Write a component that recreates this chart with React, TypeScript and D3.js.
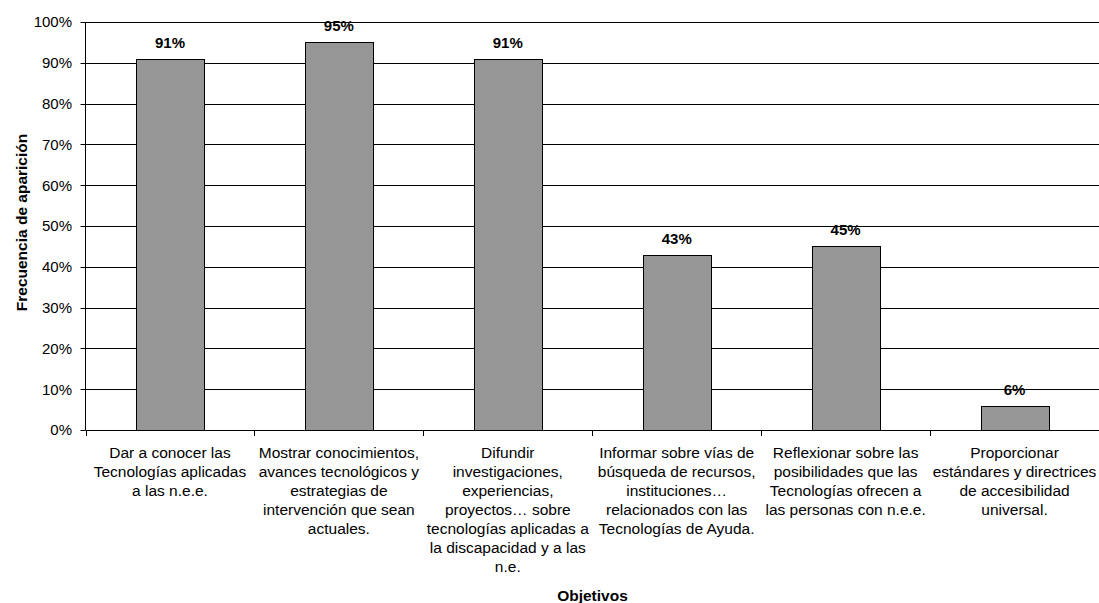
import React from "react";
import * as d3 from "d3";

const categories: string[][] = [
  ["Dar a conocer las", "Tecnologías aplicadas", "a las n.e.e."],
  ["Mostrar conocimientos,", "avances tecnológicos y", "estrategias de", "intervención que sean", "actuales."],
  ["Difundir", "investigaciones,", "experiencias,", "proyectos… sobre", "tecnologías aplicadas a", "la discapacidad y a las", "n.e."],
  ["Informar sobre vías de", "búsqueda de recursos,", "instituciones…", "relacionados con las", "Tecnologías de Ayuda."],
  ["Reflexionar sobre las", "posibilidades que las", "Tecnologías ofrecen a", "las personas con n.e.e."],
  ["Proporcionar", "estándares y directrices", "de accesibilidad", "universal."],
];
const values: number[] = [91, 95, 91, 43, 45, 6];
const yTicks: number[] = [0, 10, 20, 30, 40, 50, 60, 70, 80, 90, 100];

const W = 1099;
const H = 603;
const left = 85.5;
const right = 1099;
const top = 22;
const bottom = 430;
const font = "'Liberation Sans', Arial, sans-serif";

export default function App() {
  const idx = values.map((_, i) => String(i));
  const x = d3.scaleBand<string>().domain(idx).range([left, right]).paddingInner(0.6).paddingOuter(0.3);
  const band = d3.scaleBand<string>().domain(idx).range([left, right]);
  const y = d3.scaleLinear().domain([0, 100]).range([bottom, top]);

  return (
    <svg width={W} height={H} style={{ position: "absolute", left: 0, top: 0, background: "#fff" }}>
      {/* gridlines and y ticks */}
      {yTicks.map((t) => (
        <g key={t}>
          {t > 0 && (
            <line x1={left} x2={right} y1={Math.round(y(t)) + 0.5} y2={Math.round(y(t)) + 0.5} stroke="#000" strokeWidth={1} />
          )}
          <line x1={left - 5} x2={left} y1={Math.round(y(t)) + 0.5} y2={Math.round(y(t)) + 0.5} stroke="#000" />
          <text x={72} y={y(t)} dy="0.36em" textAnchor="end" fontFamily={font} fontSize={15} fill="#000">
            {t}%
          </text>
        </g>
      ))}
      {/* bars */}
      {values.map((v, i) => (
        <g key={i}>
          <rect
            x={Math.round(x(String(i))!) + 0.5}
            y={Math.round(y(v)) + 0.5}
            width={Math.round(x.bandwidth())}
            height={Math.round(bottom) - Math.round(y(v))}
            fill="#969696"
            stroke="#000"
            strokeWidth={1}
          />
          <text
            x={x(String(i))! + x.bandwidth() / 2}
            y={y(v) - 11}
            textAnchor="middle"
            fontFamily={font}
            fontSize={15}
            fontWeight="bold"
            fill="#000"
          >
            {v}%
          </text>
        </g>
      ))}
      {/* axes */}
      <line x1={left} x2={left} y1={top} y2={bottom} stroke="#000" />
      <line x1={left} x2={right} y1={bottom + 0.5} y2={bottom + 0.5} stroke="#000" />
      {d3.range(values.length + 1).map((i) => {
        const px = Math.round(left + i * band.bandwidth()) + 0.5;
        return <line key={i} x1={px} x2={px} y1={bottom} y2={bottom + 6} stroke="#000" />;
      })}
      {/* category labels */}
      {categories.map((lines, i) => (
        <text key={i} textAnchor="middle" fontFamily={font} fontSize={15.5} fill="#000">
          {lines.map((ln, j) => (
            <tspan key={j} x={band(String(i))! + band.bandwidth() / 2} y={458 + j * 19}>
              {ln}
            </tspan>
          ))}
        </text>
      ))}
      {/* axis titles */}
      <text x={592.5} y={600.5} textAnchor="middle" fontFamily={font} fontSize={15.5} fontWeight="bold">
        Objetivos
      </text>
      <text
        transform={`translate(26.5,222.5) rotate(-90)`}
        textAnchor="middle"
        fontFamily={font}
        fontSize={15.5}
        fontWeight="bold"
      >
        Frecuencia de aparición
      </text>
    </svg>
  );
}
